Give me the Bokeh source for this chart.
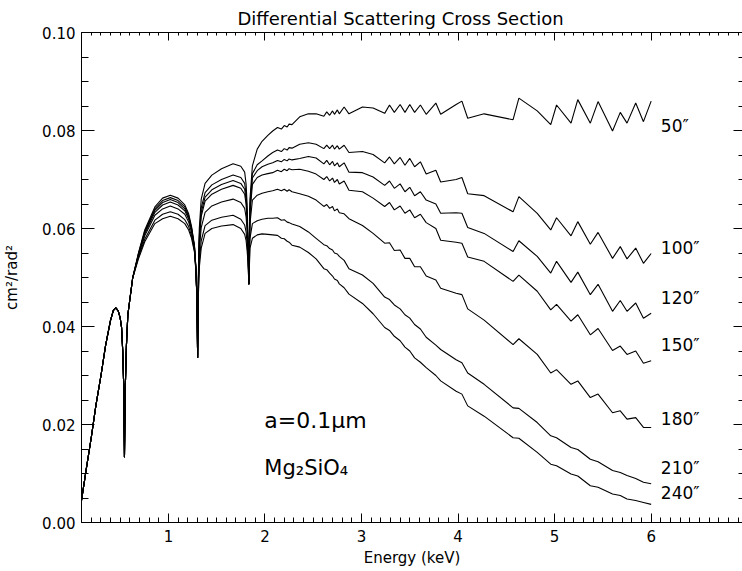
from bokeh.plotting import figure
from bokeh.models import (Range1d, FixedTicker, LinearAxis, NumeralTickFormatter,
                          CustomJSTickFormatter, Label)
from bokeh.embed import file_html
from bokeh.resources import INLINE
from bokeh.core.properties import value

FONT = "DejaVu Sans"

# ---------------- data ----------------
TITLE = "Differential Scattering Cross Section"
X_LABEL = "Energy (keV)"
Y_LABEL = "cm\u00b2/rad\u00b2"
X_MAJOR = [1, 2, 3, 4, 5, 6]
Y_MAJOR = [0.0, 0.02, 0.04, 0.06, 0.08, 0.10]
CURVE_LABELS = ["50\u2033", "100\u2033", "120\u2033", "150\u2033", "180\u2033", "210\u2033", "240\u2033"]

# first lobe (identical for every angle)
e_arc1 = [0.10, 0.15, 0.20, 0.25, 0.30, 0.35, 0.40, 0.43, 0.455, 0.48, 0.50, 0.515, 0.527, 0.537, 0.545]
s_arc1 = [0.0045, 0.0110, 0.0172, 0.0240, 0.0298, 0.0362, 0.0412, 0.0433, 0.0438, 0.0432, 0.0418, 0.0398, 0.0350, 0.0280, 0.0133]

# second lobe
e_arc2 = [0.553, 0.565, 0.58, 0.63, 0.69, 0.755, 0.86, 0.94, 1.02, 1.10, 1.17, 1.21, 1.24, 1.27, 1.285, 1.295, 1.303]
arc2_050 = [0.0270, 0.0360, 0.0424, 0.0499, 0.0550, 0.0597, 0.0644, 0.0662, 0.0668, 0.0662, 0.0648, 0.0630, 0.0604, 0.0565, 0.0520, 0.0460, 0.0336]
arc2_100 = [0.0270, 0.0360, 0.0424, 0.0499, 0.0549, 0.0594, 0.0640, 0.0657, 0.0663, 0.0657, 0.0644, 0.0626, 0.0601, 0.0563, 0.0519, 0.0460, 0.0336]
arc2_120 = [0.0270, 0.0360, 0.0424, 0.0499, 0.0547, 0.0592, 0.0637, 0.0653, 0.0659, 0.0653, 0.0640, 0.0623, 0.0599, 0.0562, 0.0518, 0.0460, 0.0336]
arc2_150 = [0.0270, 0.0360, 0.0424, 0.0499, 0.0546, 0.0589, 0.0633, 0.0648, 0.0654, 0.0648, 0.0636, 0.0619, 0.0596, 0.0561, 0.0517, 0.0460, 0.0336]
arc2_180 = [0.0270, 0.0360, 0.0424, 0.0499, 0.0544, 0.0585, 0.0627, 0.0640, 0.0646, 0.0640, 0.0629, 0.0613, 0.0592, 0.0558, 0.0516, 0.0460, 0.0336]
arc2_210 = [0.0270, 0.0360, 0.0424, 0.0499, 0.0541, 0.0578, 0.0617, 0.0629, 0.0634, 0.0629, 0.0618, 0.0604, 0.0585, 0.0555, 0.0514, 0.0460, 0.0336]
arc2_240 = [0.0270, 0.0360, 0.0424, 0.0499, 0.0538, 0.0573, 0.0610, 0.0620, 0.0625, 0.0620, 0.0610, 0.0597, 0.0580, 0.0552, 0.0512, 0.0460, 0.0336]

# third lobe
e_arc3 = [1.31, 1.32, 1.34, 1.38, 1.45, 1.55, 1.67, 1.75, 1.79, 1.805, 1.815, 1.825, 1.833]
arc3_050 = [0.0500, 0.0600, 0.0660, 0.0692, 0.0709, 0.0722, 0.0732, 0.0727, 0.0715, 0.0690, 0.0650, 0.0580, 0.0486]
arc3_100 = [0.0493, 0.0585, 0.0642, 0.0673, 0.0689, 0.0700, 0.0709, 0.0704, 0.0692, 0.0669, 0.0632, 0.0571, 0.0486]
arc3_120 = [0.0489, 0.0578, 0.0633, 0.0664, 0.0679, 0.0690, 0.0698, 0.0692, 0.0680, 0.0658, 0.0624, 0.0566, 0.0486]
arc3_150 = [0.0486, 0.0572, 0.0625, 0.0656, 0.0670, 0.0680, 0.0688, 0.0682, 0.0670, 0.0649, 0.0616, 0.0562, 0.0486]
arc3_180 = [0.0477, 0.0554, 0.0602, 0.0633, 0.0646, 0.0654, 0.0660, 0.0653, 0.0641, 0.0623, 0.0595, 0.0551, 0.0486]
arc3_210 = [0.0466, 0.0532, 0.0575, 0.0606, 0.0617, 0.0623, 0.0627, 0.0619, 0.0607, 0.0593, 0.0570, 0.0538, 0.0486]
arc3_240 = [0.0460, 0.0520, 0.0560, 0.0590, 0.0600, 0.0605, 0.0608, 0.0600, 0.0588, 0.0575, 0.0555, 0.0530, 0.0486]

# above the Si edge
e_tail = [1.845, 1.87, 1.92, 1.97, 2.03, 2.08, 2.13, 2.17, 2.20, 2.23, 2.25, 2.28, 2.36, 2.45, 2.53,
          2.61, 2.64, 2.67, 2.70, 2.72, 2.75, 2.77, 2.82, 2.87, 3.01, 3.12,
          3.24, 3.29, 3.34, 3.40, 3.45, 3.50, 3.55, 3.61, 3.67, 3.77, 3.82, 3.98, 4.04, 4.10, 4.27,
          4.57, 4.63, 4.82, 4.96, 5.02, 5.17, 5.24, 5.37, 5.45, 5.60, 5.68, 5.75, 5.84, 5.92, 6.00]
tail_050 = [0.0660, 0.0728, 0.0762, 0.0778, 0.0790, 0.0799, 0.0806, 0.0803, 0.0810, 0.0807, 0.0813, 0.0812, 0.0828, 0.0834, 0.0834,
            0.0829, 0.0838, 0.0831, 0.0840, 0.0833, 0.0842, 0.0834, 0.0848, 0.0834, 0.0848, 0.0846,
            0.0835, 0.0852, 0.0837, 0.0853, 0.0837, 0.0853, 0.0837, 0.0852, 0.0833, 0.0856, 0.0833, 0.0853, 0.0860, 0.0825, 0.0834,
            0.0822, 0.0866, 0.0840, 0.0812, 0.0852, 0.0815, 0.0863, 0.0815, 0.0859, 0.0799, 0.0837, 0.0815, 0.0856, 0.0818, 0.0860]
tail_100 = [0.0650, 0.0712, 0.0730, 0.0738, 0.0748, 0.0755, 0.0760, 0.0757, 0.0763, 0.0760, 0.0765, 0.0764, 0.0772, 0.0775, 0.0772,
            0.0763, 0.0770, 0.0763, 0.0770, 0.0762, 0.0769, 0.0762, 0.0770, 0.0755, 0.0757, 0.0751,
            0.0734, 0.0746, 0.0732, 0.0745, 0.0729, 0.0743, 0.0726, 0.0736, 0.0711, 0.0719, 0.0695, 0.0700, 0.0704, 0.0671, 0.0667,
            0.0634, 0.0665, 0.0631, 0.0597, 0.0622, 0.0585, 0.0614, 0.0568, 0.0592, 0.0539, 0.0563, 0.0538, 0.0560, 0.0529, 0.0549]
tail_120 = [0.0640, 0.0703, 0.0718, 0.0726, 0.0731, 0.0734, 0.0739, 0.0736, 0.0741, 0.0738, 0.0742, 0.0740, 0.0743, 0.0747, 0.0744,
            0.0732, 0.0739, 0.0730, 0.0737, 0.0728, 0.0734, 0.0726, 0.0734, 0.0715, 0.0714, 0.0705,
            0.0688, 0.0697, 0.0682, 0.0691, 0.0675, 0.0684, 0.0667, 0.0675, 0.0658, 0.0650, 0.0631, 0.0632, 0.0631, 0.0602, 0.0590,
            0.0553, 0.0575, 0.0543, 0.0509, 0.0533, 0.0490, 0.0511, 0.0465, 0.0486, 0.0431, 0.0453, 0.0431, 0.0448, 0.0417, 0.0427]
tail_150 = [0.0630, 0.0690, 0.0704, 0.0709, 0.0712, 0.0714, 0.0719, 0.0716, 0.0721, 0.0718, 0.0722, 0.0720, 0.0721, 0.0717, 0.0711,
            0.0700, 0.0706, 0.0697, 0.0703, 0.0694, 0.0700, 0.0691, 0.0697, 0.0678, 0.0675, 0.0662,
            0.0645, 0.0653, 0.0638, 0.0646, 0.0631, 0.0638, 0.0622, 0.0629, 0.0612, 0.0600, 0.0576, 0.0572, 0.0570, 0.0542, 0.0533,
            0.0492, 0.0505, 0.0472, 0.0434, 0.0445, 0.0411, 0.0424, 0.0383, 0.0396, 0.0351, 0.0360, 0.0343, 0.0350, 0.0325, 0.0330]
tail_180 = [0.0610, 0.0658, 0.0668, 0.0672, 0.0675, 0.0677, 0.0680, 0.0677, 0.0680, 0.0676, 0.0679, 0.0675, 0.0671, 0.0666, 0.0658,
            0.0645, 0.0649, 0.0641, 0.0645, 0.0636, 0.0640, 0.0632, 0.0630, 0.0620, 0.0606, 0.0590,
            0.0570, 0.0571, 0.0555, 0.0556, 0.0539, 0.0539, 0.0522, 0.0522, 0.0503, 0.0495, 0.0478, 0.0468, 0.0465, 0.0436, 0.0413,
            0.0363, 0.0375, 0.0343, 0.0305, 0.0312, 0.0282, 0.0289, 0.0255, 0.0262, 0.0224, 0.0228, 0.0211, 0.0214, 0.0194, 0.0194]
tail_210 = [0.0580, 0.0610, 0.0616, 0.0619, 0.0621, 0.0621, 0.0622, 0.0617, 0.0618, 0.0613, 0.0612, 0.0609, 0.0604, 0.0593, 0.0580,
            0.0567, 0.0565, 0.0559, 0.0556, 0.0550, 0.0548, 0.0543, 0.0535, 0.0518, 0.0505, 0.0488,
            0.0460, 0.0455, 0.0444, 0.0436, 0.0424, 0.0417, 0.0404, 0.0395, 0.0378, 0.0362, 0.0353, 0.0332, 0.0326, 0.0305, 0.0282,
            0.0234, 0.0233, 0.0204, 0.0177, 0.0173, 0.0153, 0.0149, 0.0129, 0.0124, 0.0106, 0.0102, 0.0096, 0.0090, 0.0082, 0.0079]
tail_240 = [0.0560, 0.0580, 0.0587, 0.0589, 0.0588, 0.0587, 0.0586, 0.0580, 0.0579, 0.0574, 0.0572, 0.0566, 0.0562, 0.0551, 0.0538,
            0.0518, 0.0516, 0.0509, 0.0503, 0.0497, 0.0494, 0.0487, 0.0479, 0.0466, 0.0447, 0.0426,
            0.0398, 0.0392, 0.0380, 0.0371, 0.0358, 0.0350, 0.0336, 0.0327, 0.0316, 0.0300, 0.0289, 0.0268, 0.0262, 0.0238, 0.0217,
            0.0173, 0.0172, 0.0143, 0.0119, 0.0116, 0.0099, 0.0095, 0.0075, 0.0072, 0.0058, 0.0055, 0.0048, 0.0045, 0.0041, 0.0037]

arcs2 = [arc2_050, arc2_100, arc2_120, arc2_150, arc2_180, arc2_210, arc2_240]
arcs3 = [arc3_050, arc3_100, arc3_120, arc3_150, arc3_180, arc3_210, arc3_240]
tails = [tail_050, tail_100, tail_120, tail_150, tail_180, tail_210, tail_240]

# label placement (annotation positions, data units)
LABEL_X = 6.10
LABEL_Y = [0.0810, 0.0560, 0.0458, 0.0362, 0.0211, 0.0112, 0.0061]

# ---------------- figure ----------------
p = figure(width=742, height=571, x_range=Range1d(0.1, 6.946), y_range=Range1d(0.0, 0.1),
           output_backend="svg", toolbar_location=None,
           x_axis_location=None, y_axis_location=None,
           min_border_left=80, min_border_right=0, min_border_top=32, min_border_bottom=49)
p.outline_line_color = None
p.grid.grid_line_color = None
p.background_fill_color = "white"
p.border_fill_color = "white"

p.title.text = TITLE
p.title.align = "left"
p.title.offset = 156
p.title.text_font = FONT
p.title.text_font_size = "18px"
p.title.text_font_style = "normal"
p.title.text_color = "black"
p.title.standoff = 8

x_ticker = FixedTicker(ticks=X_MAJOR, minor_ticks=[round(0.1 * i, 1) for i in range(1, 70)])
y_ticker = FixedTicker(ticks=Y_MAJOR, minor_ticks=[round(0.005 * i, 3) for i in range(0, 21)])
blank = CustomJSTickFormatter(code="return ''")


def style(ax, maj_in, min_in):
    ax.axis_line_color = "black"
    ax.axis_line_width = 1
    ax.major_tick_line_color = "black"
    ax.minor_tick_line_color = "black"
    ax.major_tick_in = maj_in
    ax.major_tick_out = 0
    ax.minor_tick_in = min_in
    ax.minor_tick_out = 0
    ax.major_label_text_font = FONT
    ax.major_label_text_color = "black"
    ax.axis_label_text_font = FONT
    ax.axis_label_text_font_style = "normal"
    ax.axis_label_text_color = "black"


bottom = LinearAxis(ticker=x_ticker, formatter=NumeralTickFormatter(format="0"), axis_label=X_LABEL)
style(bottom, 9, 5)
bottom.major_label_text_font_size = "15px"
bottom.major_label_standoff = 7
bottom.axis_label_text_font_size = "15px"
bottom.axis_label_standoff = 4
p.add_layout(bottom, "below")

left = LinearAxis(ticker=y_ticker, formatter=NumeralTickFormatter(format="0.00"), axis_label=Y_LABEL)
style(left, 13, 7)
left.major_label_text_font_size = "15px"
left.major_label_standoff = 6
left.axis_label_text_font_size = "15px"
left.axis_label_standoff = 18
p.add_layout(left, "left")

top = LinearAxis(ticker=x_ticker, formatter=blank)
style(top, 8, 3)
top.major_label_text_font_size = "1px"
top.major_label_standoff = 0
p.add_layout(top, "above")

right = LinearAxis(ticker=y_ticker, formatter=blank)
style(right, 9, 4)
right.axis_line_color = None
right.major_label_text_font_size = "1px"
right.major_label_standoff = 0
p.add_layout(right, "right")

# curves
for a2, a3, tl in zip(arcs2, arcs3, tails):
    xs = e_arc1 + e_arc2 + e_arc3 + e_tail
    ys = s_arc1 + a2 + a3 + tl
    p.line(xs, ys, line_color="black", line_width=1.1)

p.text(x=[LABEL_X] * len(CURVE_LABELS), y=LABEL_Y, text=CURVE_LABELS,
       text_font=value(FONT), text_font_size="17px", text_color="black",
       text_align="left", text_baseline="middle")

p.add_layout(Label(x=1.993, y=0.0209, text="a=0.1\u03bcm", text_font=FONT,
                   text_font_size="22px", text_color="black", text_baseline="middle"))
p.add_layout(Label(x=1.993, y=0.0112, text="Mg\u2082SiO\u2084", text_font=FONT,
                   text_font_size="21px", text_color="black", text_baseline="middle"))

open("out.html", "w").write(file_html(p, INLINE))
